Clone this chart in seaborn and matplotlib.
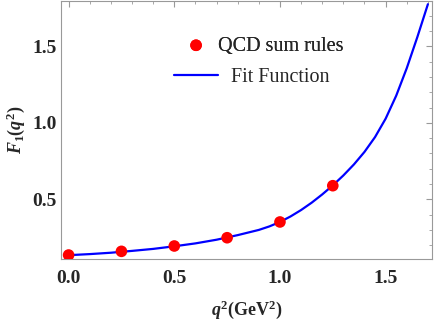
import matplotlib
matplotlib.use("Agg")
import matplotlib.pyplot as plt
import seaborn as sns
from matplotlib.ticker import MultipleLocator

# QCD sum rules points
q2_points = [0.0, 0.25, 0.5, 0.75, 1.0, 1.25]
f1_points = [0.136, 0.160, 0.195, 0.249, 0.352, 0.589]

# fit curve
q2_fit = [0.0, 0.1, 0.2, 0.3, 0.4, 0.5, 0.6, 0.7, 0.8, 0.9, 0.95, 1.0,
          1.05, 1.1, 1.15, 1.2, 1.25, 1.3, 1.35, 1.4, 1.45, 1.5, 1.55,
          1.6, 1.65, 1.7]
f1_fit = [0.135, 0.142, 0.151, 0.163, 0.176, 0.193, 0.212, 0.236, 0.266,
          0.300, 0.323, 0.352, 0.388, 0.430, 0.478, 0.532, 0.591, 0.656,
          0.728, 0.810, 0.907, 1.027, 1.177, 1.357, 1.560, 1.775]

sns.set_style("white")
plt.rcParams["font.family"] = ["Liberation Serif", "DejaVu Serif"]
plt.rcParams["mathtext.fontset"] = "custom"
plt.rcParams["mathtext.rm"] = "Liberation Serif:bold"
plt.rcParams["mathtext.it"] = "Liberation Serif:italic:bold"
plt.rcParams["mathtext.bf"] = "Liberation Serif:bold"

W, H = 436, 327
fig = plt.figure(figsize=(W / 100, H / 100), dpi=100)
ax = fig.add_axes([61 / W, 68 / H, 370.7 / W, 258 / H])

sns.lineplot(x=q2_fit, y=f1_fit, ax=ax, color="#0000ff", linewidth=1.6,
             label="Fit Function", zorder=2)
sns.scatterplot(x=q2_points, y=f1_points, ax=ax, color="#ff0000", s=70,
                edgecolor="none", label="QCD sum rules", zorder=3)

ax.set_xlim(-0.036, 1.718)
ax.set_ylim(0.11, 1.796)

ax.xaxis.set_minor_locator(MultipleLocator(0.1))
ax.yaxis.set_minor_locator(MultipleLocator(0.1))
ax.set_xticks([0.0, 0.5, 1.0, 1.5])
ax.set_xticklabels(["0.0", "0.5", "1.0", "1.5"])
ax.set_yticks([0.5, 1.0, 1.5])
ax.set_yticklabels(["0.5", "1.0", "1.5"])

ax.tick_params(which="both", direction="in", top=True, right=True,
               color="#999999")
ax.tick_params(which="major", length=4, width=0.8, labelsize=14)
ax.tick_params(which="minor", length=2.5, width=0.6)
ax.tick_params(axis="x", which="major", pad=8)
ax.tick_params(axis="y", which="major", pad=3)
for lab in ax.get_xticklabels() + ax.get_yticklabels():
    lab.set_fontweight("bold")
for sp in ax.spines.values():
    sp.set_color("#999999")
    sp.set_linewidth(0.8)

ax.set_xlabel(r"$\mathit{q}^{2}(\mathrm{GeV}^{2})$", fontsize=13, labelpad=8)
ax.set_ylabel(r"$\mathit{F}_{1}(\mathit{q}^{2})$", fontsize=13, labelpad=4)

handles, labels = ax.get_legend_handles_labels()
h_fit = handles[labels.index("Fit Function")]
h_qcd = handles[labels.index("QCD sum rules")]
ax.get_legend().remove()

leg1 = fig.legend([h_qcd], ["QCD sum rules"], loc="center left",
                  bbox_to_anchor=(174 / W, 1 - 46 / H), frameon=False,
                  fontsize=14.5, handlelength=2.19, handletextpad=0.0,
                  borderpad=0, borderaxespad=0)
fig.legend([h_fit], ["Fit Function"], loc="center left",
           bbox_to_anchor=(174 / W, 1 - 77 / H), frameon=False,
           fontsize=14.5, handlelength=2.19, handletextpad=0.65,
           borderpad=0, borderaxespad=0)
fig.add_artist(leg1)

fig.savefig("out.png", dpi=100)
